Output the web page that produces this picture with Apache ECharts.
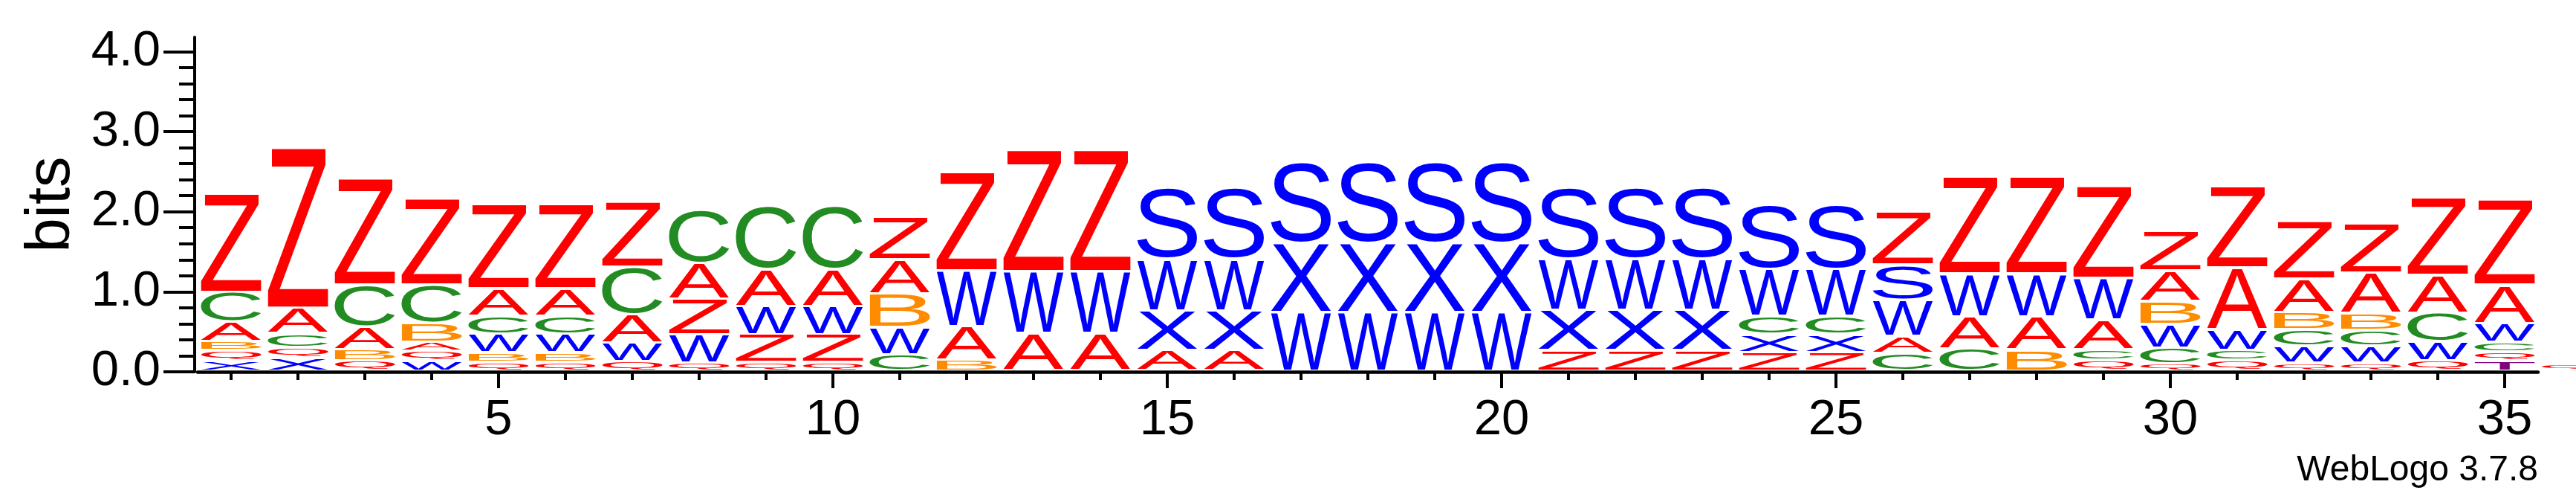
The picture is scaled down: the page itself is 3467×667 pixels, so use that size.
<!DOCTYPE html>
<html>
<head>
<meta charset="utf-8">
<script src="https://cdn.jsdelivr.net/npm/echarts@6/dist/echarts.min.js"></script>
<style>
html,body{margin:0;padding:0;background:#fff;}
#chart{width:3467px;height:667px;}
</style>
</head>
<body>
<div id="chart"></div>
<script>
const positions = [1,2,3,4,5,6,7,8,9,10,11,12,13,14,15,16,17,18,19,20,21,22,23,24,25,26,27,28,29,30,31,32,33,34,35,36];
const xTickLabels = [5,10,15,20,25,30,35];
const xMinorTicks = [1,2,3,4,5,6,7,8,9,10,11,12,13,14,15,16,17,18,19,20,21,22,23,24,25,26,27,28,29,30,31,32,33,34,35];
const yTickLabels = [0,1,2,3,4];
const yMinorTicks = [0,0.2,0.4,0.6,0.8,1,1.2,1.4,1.6,1.8,2,2.2,2.4,2.6,2.8,3,3.2,3.4,3.6,3.8,4];

// bits of each letter at each position (1..36)
const bitsZ = [1.239,2.004,1.332,1.075,1.053,1.053,0.818,0.443,0.347,0.347,0.527,1.239,1.518,1.518,0,0,0,0,0,0,0.254,0.254,0.254,0.232,0.232,0.657,1.214,1.214,1.152,0.493,1.022,0.722,0.620,0.967,1.069,0];
const bitsA = [0.248,0.319,0.279,0.115,0.347,0.347,0.356,0.449,0.465,0.465,0.428,0.424,0.465,0.465,0.254,0.254,0,0,0,0,0,0,0,0,0,0.217,0.400,0.409,0.372,0.381,0.774,0.418,0.511,0.474,0.480,0];
const bitsC = [0.369,0.170,0.527,0.480,0.226,0.226,0.589,0.672,0.790,0.790,0.201,0,0,0,0,0,0,0,0,0,0,0,0,0.226,0.226,0.217,0.273,0,0.133,0.198,0.124,0.201,0.195,0.356,0.118,0];
const bitsB = [0.112,0,0.133,0.232,0.118,0.118,0,0,0,0,0.418,0.133,0,0,0,0,0,0,0,0,0,0,0,0,0,0,0,0.263,0,0.285,0,0.217,0.208,0,0,0];
const bitsQ = [0.130,0.130,0.130,0.118,0.108,0.108,0.118,0.102,0.108,0.108,0,0,0,0,0,0,0,0,0,0,0,0,0,0,0,0,0,0,0.130,0.087,0.130,0.099,0.099,0.124,0.115,0.077];
const bitsW = [0,0,0,0.124,0.232,0.232,0.232,0.347,0.350,0.350,0.341,0.697,0.774,0.774,0.644,0.644,0.728,0.728,0.728,0.728,0.635,0.635,0.635,0.589,0.589,0.449,0.536,0.536,0.520,0.297,0.257,0.211,0.211,0.239,0.232,0];
const bitsX = [0.124,0.164,0,0,0,0,0,0,0,0,0,0,0,0,0.496,0.496,0.861,0.861,0.861,0.861,0.505,0.505,0.505,0.223,0.223,0,0,0,0,0,0,0,0,0,0,0];
const bitsS = [0,0,0,0,0,0,0,0,0,0,0,0,0,0,0.898,0.898,1.013,1.013,1.013,1.013,0.898,0.898,0.898,0.805,0.805,0.443,0,0,0,0,0,0,0,0,0,0];
const bitsT = [0,0,0,0,0,0,0,0,0,0,0,0,0,0,0,0,0,0,0,0,0,0,0,0,0,0,0,0,0,0,0,0,0,0,0.124,0];

// stacking order per position, bottom to top
const stackOrder = ['XQBACZ','XQCAZ','QBACZ','WQABCZ','QBWCAZ','QBWCAZ','QWACZ','QWZAC','QZWAC','QZWAC','CWBAZ','BAWZ','AWZ','AWZ','AXWS','AXWS','WXS','WXS','WXS','WXS','ZXWS','ZXWS','ZXWS','ZXCWS','ZXCWS','CAWSZ','CAWZ','BAWZ','QCAWZ','QCWBAZ','QCWAZ','QWCBAZ','QWCBAZ','QWCAZ','TQCWAZ','Q'];

const letters = ['Z','A','C','B','Q','W','X','S','T'];
// ---- styles ----
const letterColors = {Z:'#FF0000',A:'#FF0000',Q:'#FF0000',C:'#228B22',B:'#FF8C00',W:'#0000FF',X:'#0000FF',S:'#0000FF',T:'#800080'};
const FAMILY = '"Liberation Sans", Arial, Helvetica, sans-serif';
const GLYPH_FONT = '200px ' + FAMILY;

const bitsBy = {Z:bitsZ,A:bitsA,C:bitsC,B:bitsB,Q:bitsQ,W:bitsW,X:bitsX,S:bitsS,T:bitsT};

// measure ink bounds of each glyph (textAlign left, textBaseline middle)
const cv = document.createElement('canvas');
const ctx = cv.getContext('2d');
ctx.font = GLYPH_FONT;
ctx.textAlign = 'left';
ctx.textBaseline = 'middle';
const metrics = {};
letters.forEach(function (ch) {
  const m = ctx.measureText(ch);
  metrics[ch] = {
    left: -m.actualBoundingBoxLeft,
    top: -m.actualBoundingBoxAscent,
    w: m.actualBoundingBoxLeft + m.actualBoundingBoxRight,
    h: m.actualBoundingBoxAscent + m.actualBoundingBoxDescent
  };
});

const data = [];
positions.forEach(function (pos, i) {
  let base = 0;
  stackOrder[i].split('').forEach(function (ch) {
    const h = bitsBy[ch][i];
    if (h > 0) {
      data.push({value: [pos, base, base + h, letters.indexOf(ch)]});
      base += h;
    }
  });
});

const chart = echarts.init(document.getElementById('chart'), null, {renderer: 'canvas'});

function renderItem(params, api) {
  const pos = api.value(0), y0 = api.value(1), y1 = api.value(2);
  const ch = letters[api.value(3)];
  const bl = api.coord([pos - 0.45, y0]);
  const tr = api.coord([pos + 0.45, y1]);
  const inset = 3.5;
  const boxX = bl[0];
  const boxW = tr[0] - bl[0];
  const boxTop = tr[1];
  let boxH = (bl[1] - inset) - boxTop;
  if (boxH < 0.6) boxH = 0.6;
  const m = metrics[ch];
  const sx = boxW / m.w;
  const sy = boxH / m.h;
  return {
    type: 'text',
    silent: true,
    x: boxX - m.left * sx,
    y: boxTop - m.top * sy,
    scaleX: sx,
    scaleY: sy,
    style: {
      text: ch,
      font: GLYPH_FONT,
      fill: letterColors[ch],
      align: 'left',
      verticalAlign: 'middle',
      textAlign: 'left',
      textVerticalAlign: 'middle'
    }
  };
}

const gridBox = {left: 266, right: 51, top: 50, bottom: 167};
const axisLineStyle = {color: '#000', width: 4};

chart.setOption({
  animation: false,
  backgroundColor: '#fff',
  grid: [Object.assign({}, gridBox), Object.assign({}, gridBox)],
  xAxis: [{
    type: 'value', gridIndex: 0, min: 0.5, max: 35.5,
    axisLine: {show: true, onZero: false, lineStyle: {color: '#000', width: 4.5}},
    axisTick: {show: true, customValues: xTickLabels, length: 22, lineStyle: {color: '#000', width: 4}},
    axisLabel: {show: true, customValues: xTickLabels, fontSize: 67, lineHeight: 67, margin: 32, color: '#000', fontFamily: FAMILY},
    splitLine: {show: false}
  }, {
    type: 'value', gridIndex: 1, min: 0.5, max: 35.5,
    axisLine: {show: false},
    axisTick: {show: true, customValues: xMinorTicks, length: 11, lineStyle: {color: '#000', width: 4}},
    axisLabel: {show: false},
    splitLine: {show: false}
  }],
  yAxis: [{
    type: 'value', gridIndex: 0, min: 0, max: 4.18, offset: 4,
    name: 'bits', nameLocation: 'middle', nameRotate: 90, nameGap: 149,
    nameTextStyle: {fontSize: 83, lineHeight: 83, color: '#000', fontFamily: FAMILY},
    axisLine: {show: true, lineStyle: axisLineStyle},
    axisTick: {show: true, customValues: yTickLabels, length: 42, lineStyle: {color: '#000', width: 4}},
    axisLabel: {show: true, customValues: yTickLabels, formatter: function (v) { return v.toFixed(1); },
      fontSize: 67, lineHeight: 67, margin: 46, color: '#000', fontFamily: FAMILY},
    splitLine: {show: false}
  }, {
    type: 'value', gridIndex: 1, min: 0, max: 4.18, offset: 4,
    axisLine: {show: false},
    axisTick: {show: true, customValues: yMinorTicks, length: 21, lineStyle: {color: '#000', width: 4}},
    axisLabel: {show: false},
    splitLine: {show: false}
  }],
  graphic: [{
    type: 'text', x: 3416, y: 633,
    style: {text: 'WebLogo 3.7.8', font: '48px ' + FAMILY, fill: '#000',
      align: 'right', verticalAlign: 'middle', textAlign: 'right', textVerticalAlign: 'middle'}
  }],
  series: [{
    type: 'custom',
    xAxisIndex: 0, yAxisIndex: 0,
    clip: false,
    silent: true,
    renderItem: renderItem,
    data: data
  }]
});
</script>
</body>
</html>
